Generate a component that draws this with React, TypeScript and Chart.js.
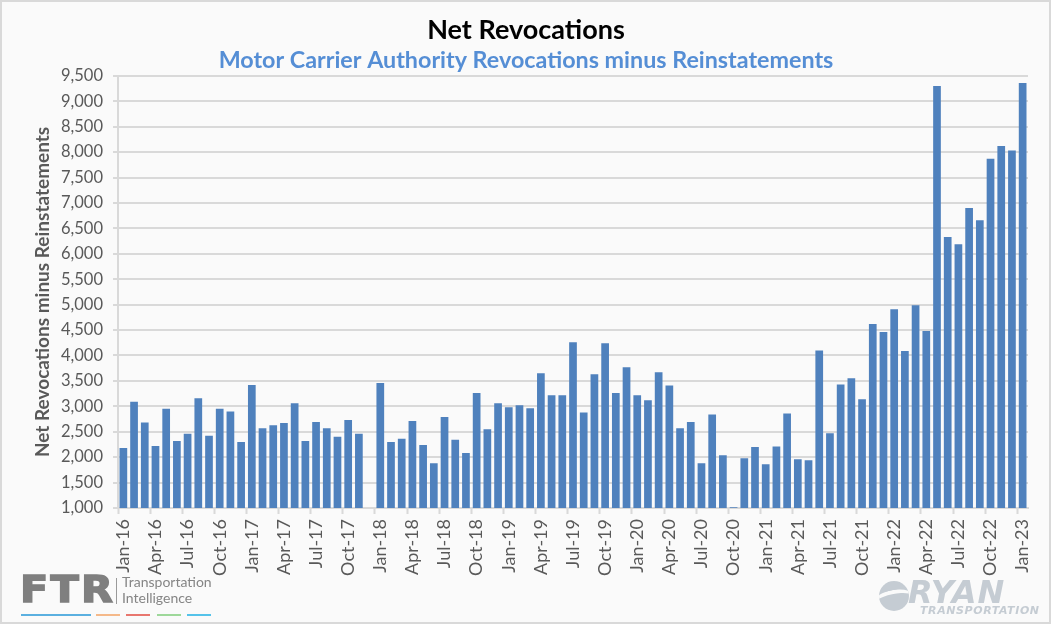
import React, { useEffect, useRef } from 'react';
import { Chart, registerables } from 'chart.js';

Chart.register(...registerables);

const categories = [
  'Jan-16', 'Feb-16', 'Mar-16', 'Apr-16', 'May-16', 'Jun-16', 'Jul-16', 'Aug-16', 'Sep-16', 'Oct-16', 'Nov-16', 'Dec-16',
  'Jan-17', 'Feb-17', 'Mar-17', 'Apr-17', 'May-17', 'Jun-17', 'Jul-17', 'Aug-17', 'Sep-17', 'Oct-17', 'Nov-17', 'Dec-17',
  'Jan-18', 'Feb-18', 'Mar-18', 'Apr-18', 'May-18', 'Jun-18', 'Jul-18', 'Aug-18', 'Sep-18', 'Oct-18', 'Nov-18', 'Dec-18',
  'Jan-19', 'Feb-19', 'Mar-19', 'Apr-19', 'May-19', 'Jun-19', 'Jul-19', 'Aug-19', 'Sep-19', 'Oct-19', 'Nov-19', 'Dec-19',
  'Jan-20', 'Feb-20', 'Mar-20', 'Apr-20', 'May-20', 'Jun-20', 'Jul-20', 'Aug-20', 'Sep-20', 'Oct-20', 'Nov-20', 'Dec-20',
  'Jan-21', 'Feb-21', 'Mar-21', 'Apr-21', 'May-21', 'Jun-21', 'Jul-21', 'Aug-21', 'Sep-21', 'Oct-21', 'Nov-21', 'Dec-21',
  'Jan-22', 'Feb-22', 'Mar-22', 'Apr-22', 'May-22', 'Jun-22', 'Jul-22', 'Aug-22', 'Sep-22', 'Oct-22', 'Nov-22', 'Dec-22',
  'Jan-23',
];

const values2016 = [2180, 3090, 2680, 2220, 2950, 2320, 2460, 3160, 2420, 2950, 2900, 2300];
const values2017 = [3420, 2570, 2630, 2670, 3060, 2320, 2690, 2570, 2400, 2730, 2460, null];
const values2018 = [3460, 2300, 2360, 2710, 2240, 1880, 2790, 2340, 2080, 3260, 2550, 3060];
const values2019 = [2980, 3020, 2960, 3650, 3220, 3220, 4260, 2880, 3630, 4240, 3260, 3770];
const values2020 = [3220, 3120, 3670, 3410, 2570, 2690, 1880, 2840, 2040, 1015, 1980, 2200];
const values2021 = [1860, 2210, 2860, 1960, 1940, 4100, 2470, 3430, 3550, 3140, 4620, 4460];
const values2022 = [4910, 4090, 4990, 4480, 9300, 6330, 6190, 6900, 6660, 7870, 8120, 8030];
const values2023 = [9360];

const netRevocations = [
  ...values2016, ...values2017, ...values2018, ...values2019,
  ...values2020, ...values2021, ...values2022, ...values2023,
];

const yTicks = { min: 1000, max: 9500, step: 500 };

const FONT = 'Lato, "Noto Sans", sans-serif';
const GRID = '#d9d9d9';
const TEXT = '#595959';

export default function App() {
  const ref = useRef<HTMLCanvasElement>(null);

  useEffect(() => {
    document.body.style.margin = '0';
    const chart = new Chart(ref.current as HTMLCanvasElement, {
      type: 'bar',
      data: {
        labels: categories,
        datasets: [
          {
            data: netRevocations as any,
            backgroundColor: '#4f81bd',
            categoryPercentage: 1,
            barPercentage: 0.72,
          },
        ],
      },
      options: {
        animation: false,
        responsive: false,
        maintainAspectRatio: false,
        layout: { padding: { left: 24, right: 24, top: 0, bottom: 49 } },
        plugins: {
          legend: { display: false },
          tooltip: { enabled: false },
          title: {
            display: true,
            text: 'Net Revocations',
            color: '#000000',
            font: { family: FONT, size: 27, weight: 'bold' },
            padding: { top: 14, bottom: 0 },
          },
          subtitle: {
            display: true,
            text: 'Motor Carrier Authority Revocations minus Reinstatements',
            color: '#558ed5',
            font: { family: FONT, size: 23.3, weight: 'bold' },
            padding: { top: 0, bottom: 1.5 },
          },
        },
        scales: {
          x: {
            type: 'category',
            offset: true,
            grid: {
              display: true,
              offset: true,
              drawOnChartArea: false,
              drawTicks: true,
              tickLength: 6,
              tickWidth: 2,
              tickColor: (ctx: any) => (ctx.index % 3 === 0 ? GRID : 'rgba(0,0,0,0)'),
            },
            border: { display: true, color: GRID, width: 2 },
            ticks: {
              autoSkip: false,
              maxRotation: 90,
              minRotation: 90,
              padding: 5,
              color: TEXT,
              font: { family: FONT, size: 18 },
              callback: (_v: any, i: number) => (i % 3 === 0 ? categories[i] : ''),
            },
            afterFit: (s: any) => {
              s.height = 70;
            },
          },
          y: {
            min: yTicks.min,
            max: yTicks.max,
            ticks: {
              stepSize: yTicks.step,
              padding: 10,
              color: TEXT,
              font: { family: FONT, size: 16.5 },
              callback: (v: any) => Number(v).toLocaleString('en-US'),
            },
            grid: { color: GRID, lineWidth: 2, tickLength: 5, drawTicks: true },
            border: { display: true, color: GRID, width: 2 },
            title: {
              display: true,
              text: 'Net Revocations minus Reinstatements',
              color: TEXT,
              font: { family: FONT, size: 19, weight: 'bold' },
              padding: { top: 7, bottom: 0 },
            },
            afterFit: (s: any) => {
              s.width = 94;
            },
          },
        },
      } as any,
    });
    return () => chart.destroy();
  }, []);

  const lineColors = [
    { left: 21, width: 70, color: '#5bb0e0' },
    { left: 96, width: 24, color: '#f5b98a' },
    { left: 126, width: 24, color: '#e8776f' },
    { left: 157, width: 24, color: '#9ed89a' },
    { left: 187, width: 24, color: '#55c3ea' },
  ];

  return (
    <div style={{ position: 'absolute', left: 0, top: 0, width: 1052, height: 627, background: '#ffffff', overflow: 'hidden' }}>
      <div
        style={{
          position: 'absolute',
          left: 0,
          top: 0,
          width: 1051,
          height: 624,
          boxSizing: 'border-box',
          border: '2px solid #d9d9d9',
          background: '#fafafa',
        }}
      />
      <canvas ref={ref} width={1052} height={627} style={{ position: 'absolute', left: 0, top: 0, width: 1052, height: 627 }} />
      {/* FTR logo */}
      <div
        style={{
          position: 'absolute',
          left: 20,
          top: 570,
          fontFamily: '"DejaVu Sans", sans-serif',
          fontWeight: 900,
          fontSize: 37,
          lineHeight: '40px',
          color: '#7f7f7f',
          letterSpacing: 2,
          WebkitTextStroke: '1.5px #7f7f7f',
          transform: 'scaleX(1.12)',
          transformOrigin: 'left',
        }}
      >
        FTR
      </div>
      <div style={{ position: 'absolute', left: 116, top: 578, width: 1, height: 26, background: '#9a9a9a' }} />
      <div
        style={{
          position: 'absolute',
          left: 122,
          top: 574,
          fontFamily: FONT,
          fontSize: 14,
          lineHeight: '16px',
          color: '#858585',
        }}
      >
        Transportation
        <br />
        Intelligence
      </div>
      {lineColors.map((l, i) => (
        <div key={i} style={{ position: 'absolute', left: l.left, top: 614, width: l.width, height: 2, background: l.color }} />
      ))}
      {/* RYAN logo */}
      <div
        style={{
          position: 'absolute',
          left: 879,
          top: 581,
          width: 30,
          height: 30,
          borderRadius: '50%',
          background: '#c5ccd3',
          overflow: 'hidden',
        }}
      >
        <div
          style={{
            position: 'absolute',
            left: -8,
            top: 9,
            width: 46,
            height: 22,
            borderRadius: '50%',
            borderTop: '4px solid #fafafa',
            transform: 'rotate(-12deg)',
          }}
        />
      </div>
      <div
        style={{
          position: 'absolute',
          left: 908,
          top: 574,
          fontFamily: '"DejaVu Sans", sans-serif',
          fontWeight: 'bold',
          fontStyle: 'italic',
          fontSize: 32,
          lineHeight: '36px',
          color: '#c5ccd3',
          letterSpacing: 1,
        }}
      >
        RYAN
      </div>
      <div
        style={{
          position: 'absolute',
          left: 920,
          top: 605,
          fontFamily: '"DejaVu Sans", sans-serif',
          fontWeight: 'bold',
          fontStyle: 'italic',
          fontSize: 11,
          lineHeight: '12px',
          color: '#c5ccd3',
          letterSpacing: 0.6,
        }}
      >
        TRANSPORTATION
      </div>
    </div>
  );
}
